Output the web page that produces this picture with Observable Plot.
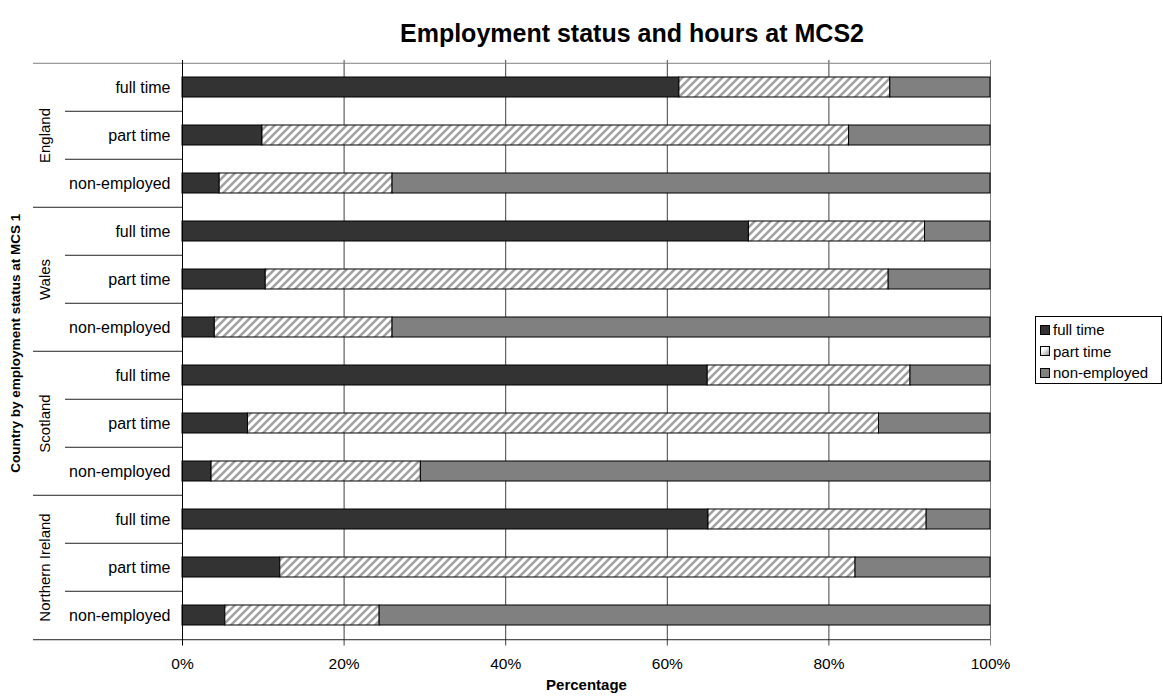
<!DOCTYPE html>
<html>
<head>
<meta charset="utf-8">
<script src="https://cdn.jsdelivr.net/npm/d3@7"></script>
<script src="https://cdn.jsdelivr.net/npm/@observablehq/plot@0.6"></script>
<style>
  html, body { margin: 0; padding: 0; background: #fff; }
  body { font-family: "Liberation Sans", Arial, sans-serif; }
  #wrap { position: relative; width: 1163px; height: 697px; overflow: hidden; }
  #title { position: absolute; left: 400px; top: 18px; white-space: nowrap;
           font-weight: bold; font-size: 25px; color: #000; line-height: 30px; }
  #legend { position: absolute; left: 1035px; top: 316px; width: 127px; height: 68px;
            border: 1px solid #000; box-sizing: border-box; padding: 2px 0 0 4px; font-size: 15px; }
  #legend .item { height: 21.5px; line-height: 21px; display: flex; align-items: center; }
  #legend .sw { width: 8px; height: 8px; border: 1px solid #000; margin-right: 3px; }
</style>
</head>
<body>
<svg width="0" height="0" style="position:absolute">
  <defs>
    <pattern id="hatch" patternUnits="userSpaceOnUse" width="8" height="8">
      <rect width="8" height="8" fill="#fff"/>
      <path d="M-2,2 L2,-2 M0,8 L8,0 M6,10 L10,6" stroke="#a0a0a0" stroke-width="2.5"/>
    </pattern>
  </defs>
</svg>
<div id="wrap">
  <div id="title">Employment status and hours at MCS2</div>
  <div id="chart"></div>
  <div id="legend"></div>
</div>
<script>
const countries = ["England", "Wales", "Scotland", "Northern Ireland"];
const statusMCS1 = ["full time", "part time", "non-employed"];
const series = ["full time", "part time", "non-employed"];
// values per row: England ft/pt/ne, Wales ft/pt/ne, Scotland ..., Northern Ireland ...
const fullTime    = [61.5,  9.9,  4.6, 70.1, 10.3,  4.0, 65.0,  8.1,  3.6, 65.1, 12.1,  5.3];
const partTime    = [26.1, 72.6, 21.4, 21.8, 77.1, 22.0, 25.1, 78.1, 25.9, 27.0, 71.2, 19.1];
const nonEmployed = [12.4, 17.5, 74.0,  8.1, 12.6, 74.0,  9.9, 13.8, 70.5,  7.9, 16.7, 75.6];
const xTicks = [0, 20, 40, 60, 80, 100];
const seriesColors = ["#333333", "url(#hatch)", "#808080"];

const rows = [];
countries.forEach((c, ci) => statusMCS1.forEach((s, si) => rows.push({country: c, status: s, key: c + "|" + s, first: si === 0, mid: si === 1})));
const keys = rows.map(r => r.key);
const data = [];
rows.forEach((r, i) => {
  [fullTime[i], partTime[i], nonEmployed[i]].forEach((v, k) => data.push({key: r.key, series: series[k], value: v}));
});

const W = 1163, H = 697, mT = 60, mB = 55.5, mL = 182, mR = 173;
const step = (H - mT - mB) / keys.length;
const font = "Liberation Sans, Arial, sans-serif";

const chart = Plot.plot({
  width: W, height: H,
  marginLeft: mL, marginRight: mR, marginTop: mT, marginBottom: mB,
  style: {fontFamily: font, fontSize: "15px", color: "#000", background: "#fff"},
  x: {domain: [0, 100], axis: null},
  y: {domain: keys, paddingInner: 0.587, paddingOuter: 0.2935, axis: null},
  color: {domain: series, range: seriesColors},
  marks: [
    Plot.ruleX(xTicks.slice(1, -1), {stroke: "#404040", strokeWidth: 1, insetBottom: -4}),
    Plot.ruleX([100], {stroke: "#808080", strokeWidth: 1, insetBottom: -4}),
    Plot.ruleY([keys[0]], {y: d => d, dy: -step / 2, insetLeft: -149, stroke: "#808080", strokeWidth: 1}),
    Plot.ruleY(rows.filter(r => r.first && r.key !== keys[0]), {y: "key", x2: 0, dy: -step / 2, insetLeft: -149, stroke: "#222", strokeWidth: 1}),
    Plot.ruleY(rows.filter(r => !r.first), {y: "key", x2: 0, dy: -step / 2, insetLeft: -117, stroke: "#222", strokeWidth: 1}),
    Plot.barX(data, Plot.stackX({y: "key", x: "value", fill: "series", z: "series", order: null, stroke: "#000", strokeWidth: 1})),
    Plot.ruleY([keys[keys.length - 1]], {y: d => d, dy: step / 2, insetLeft: -149, stroke: "#222", strokeWidth: 1}),
    Plot.ruleX([0], {stroke: "#000", strokeWidth: 1, insetBottom: -4}),
    Plot.axisX({ticks: xTicks, tickFormat: d => d + "%", tickSize: 0, tickPadding: 16, fontSize: 15.5, label: null}),
    Plot.axisY({tickSize: 0, tickPadding: 12, tickFormat: d => d.split("|")[1], fontSize: 16, label: null}),
    Plot.text(rows.filter(r => r.mid), {y: "key", text: "country", frameAnchor: "left", rotate: -90, dx: -137, fontSize: 15, textAnchor: "middle"}),
    Plot.text(["Country by employment status at MCS 1"], {frameAnchor: "left", rotate: -90, dx: -167, dy: -8, fontSize: 13.5, fontWeight: "bold", textAnchor: "middle"}),
    Plot.text(["Percentage"], {frameAnchor: "bottom", dy: 48, fontSize: 15, fontWeight: "bold"})
  ]
});
document.getElementById("chart").appendChild(chart);

const legend = document.getElementById("legend");
const swatchBg = ["#333333", "linear-gradient(135deg, #ffffff 30%, #9a9a9a 100%)", "#808080"];
series.forEach((s, i) => {
  const it = document.createElement("div");
  it.className = "item";
  const sw = document.createElement("span");
  sw.className = "sw";
  sw.style.background = swatchBg[i];
  const t = document.createElement("span");
  t.textContent = s;
  it.appendChild(sw); it.appendChild(t);
  legend.appendChild(it);
});
</script>
</body>
</html>
